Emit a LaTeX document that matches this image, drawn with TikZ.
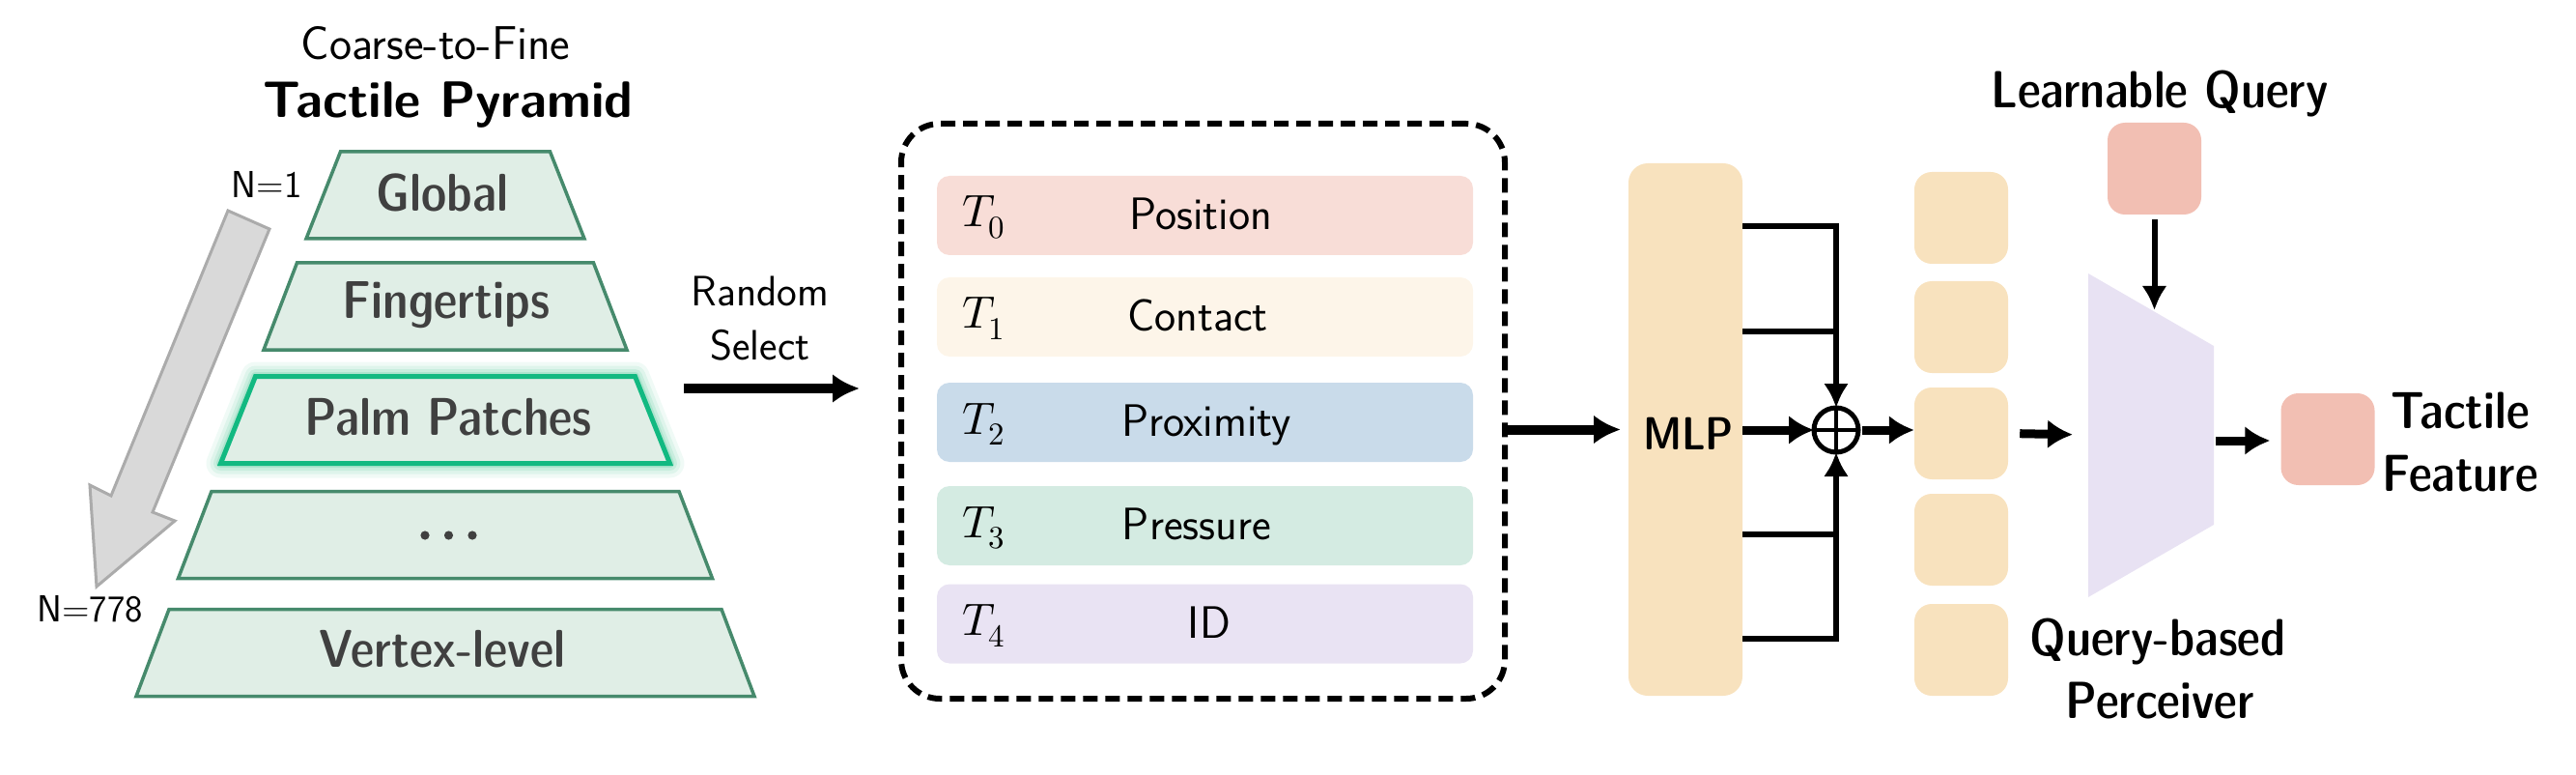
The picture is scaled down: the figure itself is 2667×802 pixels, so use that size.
\documentclass[tikz,border=0pt]{standalone}
\usepackage{fontspec}
\usepackage{unicode-math}
\usetikzlibrary{arrows.meta}
\newfontfamily\dcfont{lmsansdemicond10-regular.otf}
\newcommand\setfs[1]{\fontsize{#1pt}{#1pt}\selectfont}
\definecolor{trapfill}{HTML}{E0EEE6}
\definecolor{trapline}{HTML}{468A6C}
\definecolor{palmline}{HTML}{12B981}
\definecolor{glowc}{HTML}{6FD0A8}
\definecolor{labgray}{HTML}{404040}
\definecolor{arrfill}{HTML}{D9D9D9}
\definecolor{arrline}{HTML}{ABABAB}
\definecolor{rowA}{HTML}{F8DDD7}
\definecolor{rowB}{HTML}{FDF5E9}
\definecolor{rowC}{HTML}{C9DBEA}
\definecolor{rowD}{HTML}{D4EBE2}
\definecolor{rowE}{HTML}{E9E3F3}
\definecolor{tok}{HTML}{F8E2BE}
\definecolor{qbox}{HTML}{F2BFB3}
\definecolor{percfill}{HTML}{E8E2F3}
\begin{document}
\begin{tikzpicture}[x=1pt,y=-1pt,
  lbl/.style={inner sep=0pt, outer sep=0pt, anchor=base},
  trap/.style={fill=trapfill, draw=trapline, line width=3.5pt, line join=miter},
  rowbox/.style={minimum width=555pt, minimum height=82pt, rounded corners=13pt, inner sep=0pt},
  tokbox/.style={fill=tok, minimum width=97pt, minimum height=95pt, rounded corners=18pt, inner sep=0pt},
  bigarrow/.style={line width=10pt, -{Latex[length=28pt,width=30pt]}},
  midarrow/.style={line width=9pt, -{Latex[length=26pt,width=30pt]}},
  thinarrow/.style={line width=6pt, line join=miter, -{Latex[length=25pt,width=26pt]}},
  thinline/.style={line width=6pt},
  plab/.style={lbl, text=labgray, font=\dcfont\setfs{55}},
  rlab/.style={lbl, font=\sffamily\setfs{47}},
  tlab/.style={lbl, anchor=base west, font=\setfs{47}},
  blab/.style={lbl, font=\dcfont\setfs{54}}
]
\useasboundingbox (0,0) rectangle (2667,802);

% ---------- Pyramid ----------
\node[lbl, font=\sffamily\setfs{49}] (ctf) at (451,62) {Coarse-to-Fine};
\node[lbl, font=\sffamily\bfseries\setfs{53}] (tp) at (464,122) {Tactile Pyramid};

\newcommand\trapz[3]{\draw[trap] ({461-#2},{#1-45}) -- ({461+#2},{#1-45}) -- ({461+#3},{#1+45}) -- ({461-#3},{#1+45}) -- cycle;}
\trapz{202}{108.5}{144}
\trapz{317}{153.5}{188}
% glow for palm
\foreach \w/\o in {30/0.10, 22/0.14, 15/0.2, 9/0.3}{
  \draw[glowc, line width=\w pt, opacity=\o, line join=round] (264.5,389.5) -- (657.5,389.5) -- (693.5,479.5) -- (228.5,479.5) -- cycle;
}
\draw[fill=trapfill, draw=palmline, line width=5pt, line join=miter] (264.5,389.5) -- (657.5,389.5) -- (693.5,479.5) -- (228.5,479.5) -- cycle;
\trapz{553.5}{242}{276.5}
\trapz{675.5}{286}{320}

\node[plab] (glob) at (458,219) {Global};
\node[plab] (fing) at (462,330) {Fingertips};
\node[plab] (palm) at (464,450) {Palm Patches};
\node[plab] (vert) at (458,690) {Vertex-level};
\foreach \x in {440,464.5,489}{\fill[labgray] (\x,554) circle (4.6pt);}

% gray arrow
\draw[fill=arrfill, draw=arrline, line width=3pt, line join=miter]
  (236,218) -- (279,237) -- (158,530) -- (181,539) -- (100,607) -- (93,502) -- (115,513) -- cycle;
\node[lbl, font=\sffamily\setfs{39}] (n1) at (276,205) {N=1};
\node[lbl, font=\sffamily\setfs{39}] (n778) at (93,643) {N=778};

% random select
\node[lbl, font=\sffamily\setfs{44}] (rand) at (787,317) {Random};
\node[lbl, font=\sffamily\setfs{44}] (selt) at (787,372) {Select};
\coordinate (rsA) at (708,402);
\coordinate (rsB) at (890,402);
\draw[bigarrow] (rsA) -- (rsB);

% ---------- Selection box ----------
\node[draw, line width=6pt, dash pattern=on 15pt off 8pt, rounded corners=40pt,
      minimum width=625pt, minimum height=595pt, inner sep=0pt, outer sep=0pt] (sel) at (1245.5,425.5) {};
\node[rowbox, fill=rowA] (r0) at (1247.5,223) {};
\node[rowbox, fill=rowB] (r1) at (1247.5,328) {};
\node[rowbox, fill=rowC] (r2) at (1247.5,437) {};
\node[rowbox, fill=rowD] (r3) at (1247.5,544) {};
\node[rowbox, fill=rowE] (r4) at (1247.5,645.5) {};
\node[tlab] (t0) at (996,235) {$T_0$};
\node[tlab] (t1) at (996,340) {$T_1$};
\node[tlab] (t2) at (996,449) {$T_2$};
\node[tlab] (t3l) at (996,556) {$T_3$};
\node[tlab] (t4) at (996,657.5) {$T_4$};
\node[rlab] (l0) at (1243,237.5) {Position};
\node[rlab] (l1) at (1240,342.5) {Contact};
\node[rlab] (l2) at (1249,451.5) {Proximity};
\node[rlab] (l3) at (1239,558.5) {Pressure};
\node[rlab] (l4) at (1252,660) {ID};

% ---------- MLP ----------
\node[fill=tok, minimum width=118pt, minimum height=551pt, rounded corners=20pt, inner sep=0pt, outer sep=0pt] (mlp) at (1745,444.5) {};
\node[blab, font=\dcfont\setfs{48}] (mlpt) at (1748,465) {MLP};
\draw[bigarrow, shorten >=8pt] (sel.east |- mlp.west) -- (mlp.west);

\node[circle, draw, line width=5pt, minimum size=46pt, inner sep=0pt, outer sep=0pt] (oplus) at (1901,445) {};
\draw[line width=4pt] (oplus.north) -- (oplus.south) (oplus.west) -- (oplus.east);
\draw[midarrow] (mlp.east |- oplus.west) -- (oplus.west);

\coordinate (b1) at (1901,234);
\coordinate (b2) at (1901,343);
\coordinate (b3) at (1901,553);
\coordinate (b4) at (1901,661);
\draw[thinarrow] (mlp.east |- b1) -- (b1) -- (oplus.north);
\draw[thinline] (mlp.east |- b2) -- (b2);
\draw[thinarrow] (mlp.east |- b4) -- (b4) -- (oplus.south);
\draw[thinline] (mlp.east |- b3) -- (b3);

% ---------- tokens ----------
\node[tokbox] (k0) at (2030.5,225.5) {};
\node[tokbox] (k1) at (2030.5,338.5) {};
\node[tokbox] (k2) at (2030.5,448.5) {};
\node[tokbox] (k3) at (2030.5,558.5) {};
\node[tokbox] (k4) at (2030.5,672.5) {};
\draw[midarrow, shorten <=4pt] (oplus.east) -- (k2.west |- oplus.east);

% ---------- perceiver ----------
\fill[percfill] (2162,283) -- (2292,358) -- (2292,543) -- (2162,618) -- cycle;
\coordinate (percW) at (2162,450);
\coordinate (percE) at (2292,456);
\coordinate (qtip) at (2230.5,321);
\draw[midarrow, shorten <=12pt, shorten >=16pt] (k2.east) -- (percW);

\node[lbl, font=\dcfont\setfs{54}] (lq) at (2236,112) {Learnable Query};
\node[tokbox, fill=qbox] (query) at (2230.5,174.5) {};
\draw[thinarrow, shorten <=5pt] (query.south) -- (qtip);

\node[tokbox, fill=qbox] (feat) at (2410,454.5) {};
\draw[midarrow, shorten <=2pt, shorten >=11pt] (percE) -- (feat.west |- percE);
\node[blab] (tf1) at (2547,443) {Tactile};
\node[blab] (tf2) at (2547,508) {Feature};
\node[blab] (qb1) at (2234,678) {Query-based};
\node[blab] (qb2) at (2236,743) {Perceiver};
\end{tikzpicture}
\end{document}
